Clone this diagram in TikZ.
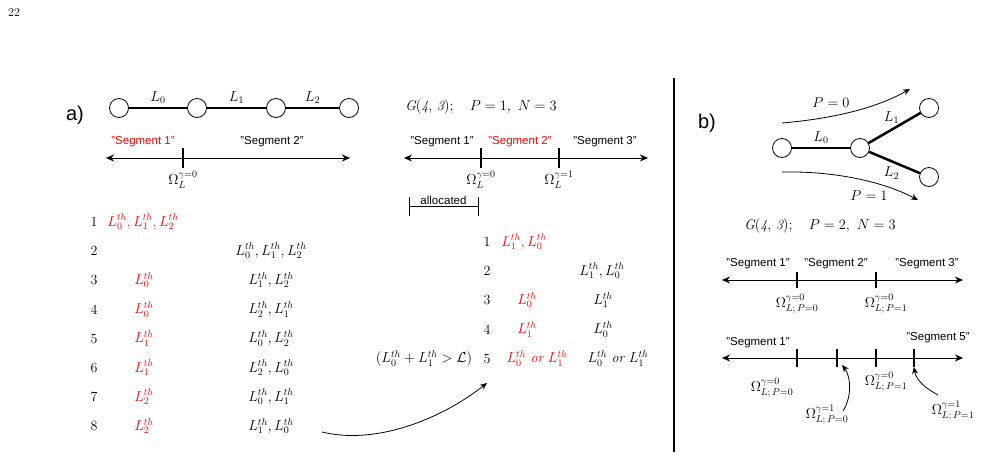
\documentclass[tikz,border=0pt]{standalone}
\usepackage{amsmath, amssymb}
\usepackage{fontspec}
\setsansfont{Liberation Sans}
\usepackage{xcolor}
\usetikzlibrary{arrows.meta}
\usetikzlibrary{positioning}

\begin{document}
\begin{tikzpicture}[x=1pt,y=-1pt,auto,
    every node/.style={font=\fontsize{14}{16}\selectfont},
    vert/.style={circle,draw,minimum size=19pt,inner sep=0pt,line width=0.8pt},
    link/.style={line width=2.5pt},
    entry/.style={inner sep=0.5pt},
    seg/.style={font=\sffamily\fontsize{11.5}{13}\selectfont,inner sep=1pt},
    part/.style={font=\sffamily\fontsize{20}{22}\selectfont},
    axis/.style={line width=1pt,{Stealth[length=8pt,width=7pt]}-{Stealth[length=8pt,width=7pt]}},
    tickmark/.style={line width=1.6pt},
    curvearrow/.style={line width=0.8pt,-{Stealth[length=7pt,width=6pt]}},
    hi/.style={red}]
   \useasboundingbox (0,0) rectangle (981,458);
   \node (page) at (14,13) {\fontsize{12}{13}\selectfont 22};

   % a) path graph
   \node[part] (a) at (75,115) {a)};
   \node[vert] (A0) at (119,108) {};
   \node[vert] (A1) at (197,108) {};
   \node[vert] (A2) at (276,108) {};
   \node[vert] (A3) at (349,108) {};
    \path[draw,link]
    (A0) edge node[above] {$L_0$} (A1)
    (A1) edge node[above] {$L_1$} (A2)
    (A2) edge node[above] {$L_2$} (A3);

   \coordinate (la) at (106,158);
   \coordinate (ra) at (350,158);
   \coordinate (t0) at (183,158);
   \draw[axis] (la) -- (ra);
   \draw[tickmark] (t0) ++(0,-10) -- ++(0,20);
   \node[seg,hi] (sa1) at (143,142) {"Segment 1"};
   \node[seg] (sa2) at (272,142) {"Segment 2"};
   \node[entry] (oa0) at (183,180) {$\Omega_L^{\gamma=0}$};

   % a) list for P=0
   \foreach \i in {1,...,8}
     \node[entry] (n\i) at (94,{221.7+29.2*(\i-1)}) {\i};
   \node[entry,hi] (r1) at (143,221.7) {$L_0^{th}, L_1^{th}, L_2^{th}$};
   \node[entry] (q2) at (271,250.9) {$L_0^{th}, L_1^{th}, L_2^{th}$};
   \node[entry,hi] (r3) at (144,280.1) {$L_0^{th}$};
   \node[entry] (q3) at (271,280.1) {$L_1^{th}, L_2^{th}$};
   \node[entry,hi] (r4) at (144,309.3) {$L_0^{th}$};
   \node[entry] (q4) at (271,309.3) {$L_2^{th}, L_1^{th}$};
   \node[entry,hi] (r5) at (144,338.5) {$L_1^{th}$};
   \node[entry] (q5) at (271,338.5) {$L_0^{th}, L_2^{th}$};
   \node[entry,hi] (r6) at (144,367.7) {$L_1^{th}$};
   \node[entry] (q6) at (271,367.7) {$L_2^{th}, L_0^{th}$};
   \node[entry,hi] (r7) at (144,396.9) {$L_2^{th}$};
   \node[entry] (q7) at (271,396.9) {$L_0^{th}, L_1^{th}$};
   \node[entry,hi] (r8) at (144,426.1) {$L_2^{th}$};
   \node[entry] (q8) at (271,426.1) {$L_1^{th}, L_0^{th}$};

   % a) P=1 split
   \node (ga) at (481,107) {$\mathit{G(4,\,3)};\quad P=1,\ N=3$};
   \coordinate (lb) at (404,158);
   \coordinate (rb) at (648,158);
   \coordinate (t1) at (481,158);
   \coordinate (t2) at (559,158);
   \draw[axis] (lb) -- (rb);
   \draw[tickmark] (t1) ++(0,-10) -- ++(0,20);
   \draw[tickmark] (t2) ++(0,-10) -- ++(0,20);
   \node[seg] (sb1) at (442,142) {"Segment 1"};
   \node[seg,hi] (sb2) at (520,142) {"Segment 2"};
   \node[seg] (sb3) at (605,142) {"Segment 3"};
   \node[entry] (ob0) at (481,180) {$\Omega_L^{\gamma=0}$};
   \node[entry] (ob1) at (559,180) {$\Omega_L^{\gamma=1}$};

   \coordinate (al) at (409,206);
   \coordinate (ar) at (478,206);
   \draw (al) -- node[seg,above=0pt] {allocated} (ar);
   \draw (al) ++(0,-9) -- ++(0,19);
   \draw (ar) ++(0,-9) -- ++(0,19);

   \foreach \i in {1,...,5}
     \node[entry] (m\i) at (487,{241.7+29.2*(\i-1)}) {\i};
   \node[entry,hi] (u1) at (524,241.7) {$L_1^{th}, L_0^{th}$};
   \node[entry] (v2) at (602,270.9) {$L_1^{th}, L_0^{th}$};
   \node[entry,hi] (u3) at (527,300.1) {$L_0^{th}$};
   \node[entry] (v3) at (603,300.1) {$L_1^{th}$};
   \node[entry,hi] (u4) at (527,329.3) {$L_1^{th}$};
   \node[entry] (v4) at (603,329.3) {$L_0^{th}$};
   \node[entry,hi] (u5) at (537,358.5) {$L_0^{th}\ \mathit{or}\ L_1^{th}$};
   \node[entry] (v5) at (618,358.5) {$L_0^{th}\ \mathit{or}\ L_1^{th}$};
   \node[entry] (cond) at (424,358.5) {$(L_0^{th}+L_1^{th}>\mathcal{L})$};

   \coordinate (ms) at (322,432);
   \coordinate (me) at (487,383);
   \draw[curvearrow] (ms) .. controls (375,445) and (440,420) .. (me);

   % divider
   \coordinate (dt) at (674,78);
   \coordinate (db) at (674,452);
   \draw[line width=2.6pt] (dt) -- (db);

   % b) star graph
   \node[part] (b) at (707,123) {b)};
   \node[vert] (B0) at (782,148) {};
   \node[vert] (B1) at (860,148) {};
   \node[vert] (B2) at (929,108) {};
   \node[vert] (B3) at (929,177) {};
    \path[draw,link]
    (B0) edge node[above] {$L_0$} (B1)
    (B1) edge node[above,xshift=-3pt] {$L_1$} (B2)
    (B1) edge node[below,xshift=-3pt] {$L_2$} (B3);

   \coordinate (p0s) at (782,123);
   \coordinate (p0e) at (910,89);
   \coordinate (p1s) at (782,172);
   \coordinate (p1e) at (918,200);
   \draw[curvearrow] (p0s) .. controls (840,118) and (880,106) .. (p0e);
   \draw[curvearrow] (p1s) .. controls (830,171) and (880,180) .. (p1e);
   \node (pz) at (831,103) {$P=0$};
   \node (po) at (869,196) {$P=1$};
   \node (gb) at (820,226) {$\mathit{G(4,\,3)};\quad P=2,\ N=3$};

   % b) two rounds of splits
   \coordinate (lc) at (722,280);
   \coordinate (rc) at (963,280);
   \coordinate (t3) at (797,280);
   \coordinate (t4) at (876,280);
   \draw[axis] (lc) -- (rc);
   \draw[tickmark] (t3) ++(0,-8) -- ++(0,16);
   \draw[tickmark] (t4) ++(0,-8) -- ++(0,16);
   \node[seg] (sc1) at (758,264) {"Segment 1"};
   \node[seg] (sc2) at (836,264) {"Segment 2"};
   \node[seg] (sc3) at (927,264) {"Segment 3"};
   \node[entry] (oc0) at (797,304) {$\Omega^{\gamma=0}_{L;\,P=0}$};
   \node[entry] (oc1) at (886,304) {$\Omega^{\gamma=0}_{L;\,P=1}$};

   \coordinate (ld) at (722,358);
   \coordinate (rd) at (963,358);
   \coordinate (t5) at (797,358);
   \coordinate (t6) at (837,358);
   \coordinate (t7) at (876,358);
   \coordinate (t8) at (914,358);
   \draw[axis] (ld) -- (rd);
   \foreach \t in {t5,t6,t7,t8}
     \draw[tickmark] (\t) ++(0,-9) -- ++(0,18);
   \node[seg] (sd1) at (758,343) {"Segment 1"};
   \node[seg] (sd5) at (938,338) {"Segment 5"};
   \node[entry] (od0) at (772,388) {$\Omega^{\gamma=0}_{L;\,P=0}$};
   \node[entry] (od1) at (886,382) {$\Omega^{\gamma=0}_{L;\,P=1}$};
   \node[entry] (od2) at (827,415) {$\Omega^{\gamma=1}_{L;\,P=0}$};
   \node[entry] (od3) at (953,411) {$\Omega^{\gamma=1}_{L;\,P=1}$};

   \coordinate (w0s) at (843,411);
   \coordinate (w0e) at (842,365);
   \coordinate (w1s) at (938,395);
   \coordinate (w1e) at (914,367);
   \draw[curvearrow] (w0s) .. controls (853,395) and (850,375) .. (w0e);
   \draw[curvearrow] (w1s) .. controls (925,388) and (916,380) .. (w1e);
\end{tikzpicture}
\end{document}
